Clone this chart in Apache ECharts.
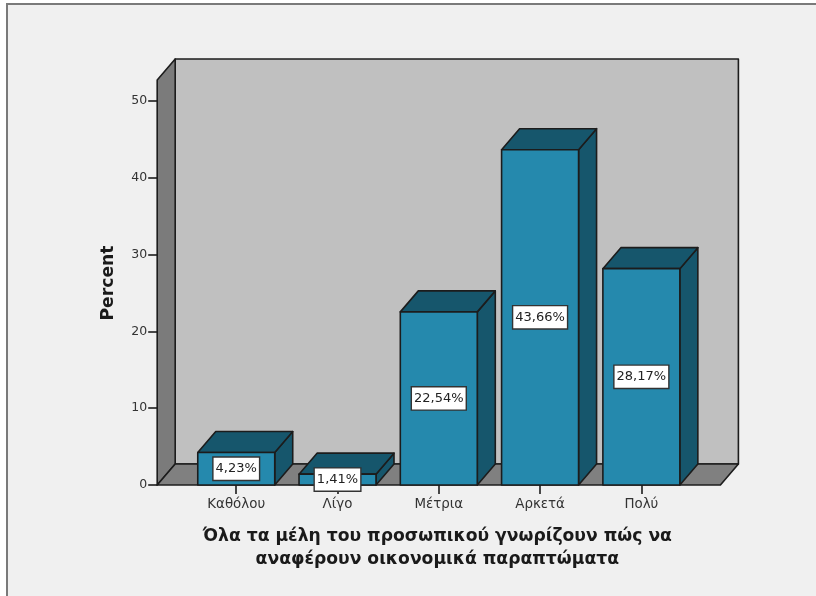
<!DOCTYPE html>
<html>
<head>
<meta charset="utf-8">
<style>
html, body { margin: 0; padding: 0; background: #ffffff; }
#chart { width: 816px; height: 596px; }
</style>
<script src="https://cdn.jsdelivr.net/npm/echarts@6/dist/echarts.min.js"></script>
</head>
<body>
<div id="chart"></div>
<script>
// Survey responses, in percent
const categories = ['Καθόλου', 'Λίγο', 'Μέτρια', 'Αρκετά', 'Πολύ'];
const percentValues = [4.23, 1.41, 22.54, 43.66, 28.17];
const yTickStep = 10;
const yTickMax = 50;
const yLabel = 'Percent';
const xLabel = 'Όλα τα μέλη του προσωπικού γνωρίζουν πώς να\nαναφέρουν οικονομικά παραπτώματα';

// Look of the extruded box
const depthX = 18;
const depthY = 21;
const sideMargin = 28.4;
const wallTopValue = 52.73;
const barShare = 0.76;
const edge = '#1c1c1c';
const edgeWidth = 1.6;
const barFront = '#2589ad';
const barShade = '#16566c';
const wallBack = '#c0c0c0';
const wallSide = '#7b7b7b';
const wallFloor = '#808080';
const textFont = '"DejaVu Sans", Verdana, sans-serif';

function face(points, fill) {
  return {
    type: 'polygon',
    shape: { points: points },
    style: { fill: fill, stroke: edge, lineWidth: edgeWidth, lineJoin: 'round' }
  };
}

// Back wall, side wall and floor of the 3D frame
function renderFrame(params, api) {
  const cs = params.coordSys;
  const base = api.coord([0, 0])[1];
  const top = api.coord([0, wallTopValue])[1];
  const l = cs.x - sideMargin;
  const r = cs.x + cs.width + sideMargin;
  return {
    type: 'group',
    children: [
      face([[l + depthX, top - depthY], [r + depthX, top - depthY], [r + depthX, base - depthY], [l + depthX, base - depthY]], wallBack),
      face([[l, top], [l + depthX, top - depthY], [l + depthX, base - depthY], [l, base]], wallSide),
      face([[l, base], [l + depthX, base - depthY], [r + depthX, base - depthY], [r, base]], wallFloor)
    ]
  };
}

// One extruded bar with its boxed value label
function renderBar(params, api) {
  const idx = api.value(0);
  const val = api.value(1);
  const p = api.coord([idx, val]);
  const base = api.coord([idx, 0])[1];
  const w = api.size([1, 0])[0] * barShare;
  const l = p[0] - w / 2;
  const r = p[0] + w / 2;
  const t = p[1];
  return {
    type: 'group',
    children: [
      face([[r, t], [r + depthX, t - depthY], [r + depthX, base - depthY], [r, base]], barShade),
      face([[l, t], [l + depthX, t - depthY], [r + depthX, t - depthY], [r, t]], barShade),
      face([[l, t], [r, t], [r, base], [l, base]], barFront)
    ]
  };
}

function renderValueLabel(params, api) {
  const idx = api.value(0);
  const val = api.value(1);
  const p = api.coord([idx, val]);
  const base = api.coord([idx, 0])[1];
  return {
    type: 'text',
    style: {
      x: p[0],
      y: (p[1] + base) / 2,
      text: val.toFixed(2).replace('.', ',') + '%',
      align: 'center',
      verticalAlign: 'middle',
      font: '13px ' + textFont,
      fill: '#222222',
      backgroundColor: '#ffffff',
      borderColor: '#333333',
      borderWidth: 1.4,
      padding: [5, 2, 4, 2]
    }
  };
}

const barData = percentValues.map((v, i) => [i, v]);

const chart = echarts.init(document.getElementById('chart'), null, { renderer: 'canvas' });
chart.setOption({
  backgroundColor: '#ffffff',
  animation: false,
  textStyle: { fontFamily: textFont },
  graphic: [{
    type: 'rect',
    z: -10,
    shape: { x: 7, y: 4, width: 840, height: 620 },
    style: { fill: '#f0f0f0', stroke: '#7a7a7a', lineWidth: 2 }
  }],
  grid: { left: 185.6, top: 101, width: 506.4, height: 384 },
  xAxis: {
    type: 'category',
    data: categories,
    name: xLabel,
    nameLocation: 'middle',
    nameGap: 40,
    nameTextStyle: { color: '#1a1a1a', fontFamily: textFont, fontSize: 17.2, fontWeight: 'bold', lineHeight: 23, verticalAlign: 'top', padding: [0, 3, 0, 0] },
    axisLine: { show: false },
    axisTick: { show: true, alignWithLabel: true, length: 9, lineStyle: { color: edge, width: 1.6 } },
    axisLabel: { color: '#333333', fontFamily: textFont, fontSize: 13.4, margin: 13 }
  },
  yAxis: {
    type: 'value',
    min: 0,
    max: yTickMax,
    interval: yTickStep,
    offset: sideMargin,
    name: yLabel,
    nameLocation: 'middle',
    nameGap: 40,
    nameRotate: 90,
    nameTextStyle: { color: '#1a1a1a', fontFamily: textFont, fontSize: 17.2, fontWeight: 'bold', padding: [0, 0, 0, 20] },
    splitLine: { show: false },
    axisLine: { show: false },
    axisTick: { show: true, length: 9, lineStyle: { color: edge, width: 1.6 } },
    axisLabel: { color: '#333333', fontFamily: textFont, fontSize: 12.5, margin: 10 }
  },
  series: [
    { type: 'custom', z: 1, silent: true, clip: false, renderItem: renderFrame, data: [[0, 0]], encode: { x: 0, y: 1 } },
    { type: 'custom', z: 2, silent: true, clip: false, renderItem: renderBar, data: barData, encode: { x: 0, y: 1 } },
    { type: 'custom', z: 5, silent: true, clip: false, renderItem: renderValueLabel, data: barData, encode: { x: 0, y: 1 } }
  ]
});
</script>
</body>
</html>
